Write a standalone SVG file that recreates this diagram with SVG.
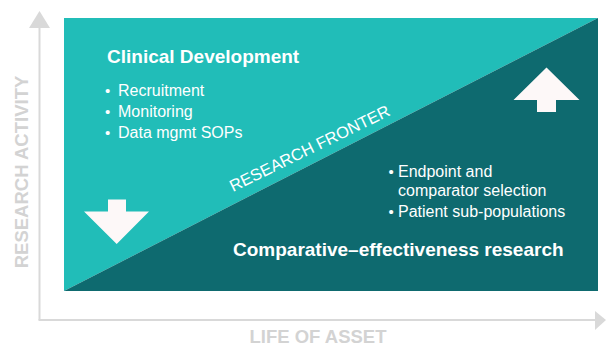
<svg xmlns="http://www.w3.org/2000/svg" width="606" height="345" viewBox="0 0 606 345">
  <style>
    .ax { stroke: #D9D9D9; stroke-width: 2; fill: none; }
    .axh { fill: #D9D9D9; }
    .axt { font-family: "Liberation Sans", Arial, sans-serif; font-weight: bold; font-size: 18.5px; fill: #D3D3D3; }
    .h { font-family: "Liberation Sans", Arial, sans-serif; font-weight: bold; font-size: 19px; fill: #FFFFFF; }
    .b { font-family: "Liberation Sans", Arial, sans-serif; font-size: 16px; fill: #FFFFFF; }
    .bul { font-family: "Liberation Sans", Arial, sans-serif; font-size: 15px; fill: #FFFFFF; }
    .fr { font-family: "Liberation Sans", Arial, sans-serif; font-size: 16.5px; fill: #FFFFFF; }
    .arr { fill: #FDF8F8; }
  </style>
  <rect width="606" height="345" fill="#FFFFFF"/>
  <g id="connectors">
    <line class="ax" x1="39.5" y1="26" x2="39.5" y2="320"/>
    <polygon class="axh" points="39.5,11 50,28 29,28"/>
    <line class="ax" x1="38.5" y1="320" x2="596" y2="320"/>
    <polygon class="axh" points="606,320 595,311 595,330"/>
  </g>
  <g id="axis-labels">
    <text class="axt" x="28" y="172" text-anchor="middle" transform="rotate(-90 28 172)">RESEARCH ACTIVITY</text>
    <text class="axt" x="318" y="342.5" text-anchor="middle">LIFE OF ASSET</text>
  </g>
  <g id="clinical-development">
    <polygon points="64,18 598,18 64,291" fill="#21BDB8"/>
    <text class="h" x="107" y="63">Clinical Development</text>
    <text class="bul" x="105" y="96">•</text>
    <text class="b" x="118" y="96">Recruitment</text>
    <text class="bul" x="105" y="117">•</text>
    <text class="b" x="118" y="117">Monitoring</text>
    <text class="bul" x="105" y="138">•</text>
    <text class="b" x="118" y="138">Data mgmt SOPs</text>
    <polygon class="arr" points="108,199.5 126,199.5 126,211.5 149,211.5 116.7,244 84,211.5 108,211.5"/>
  </g>
  <g id="comparative-effectiveness">
    <polygon points="598,18 598,291 64,291" fill="#0E6A6F"/>
    <text class="bul" x="388.5" y="176.5">•</text>
    <text class="b" x="398" y="176.5">Endpoint and</text>
    <text class="b" x="398" y="196">comparator selection</text>
    <text class="bul" x="388.5" y="216.5">•</text>
    <text class="b" x="398" y="216.5">Patient sub-populations</text>
    <text class="h" x="233" y="256">Comparative–effectiveness research</text>
    <polygon class="arr" points="546.5,67.5 579.5,100 556,100 556,112 537,112 537,100 513.5,100"/>
  </g>
  <g id="research-frontier">
    <text class="fr" x="233" y="192" transform="rotate(-26 233 192)">RESEARCH FRONTER</text>
  </g>
</svg>
